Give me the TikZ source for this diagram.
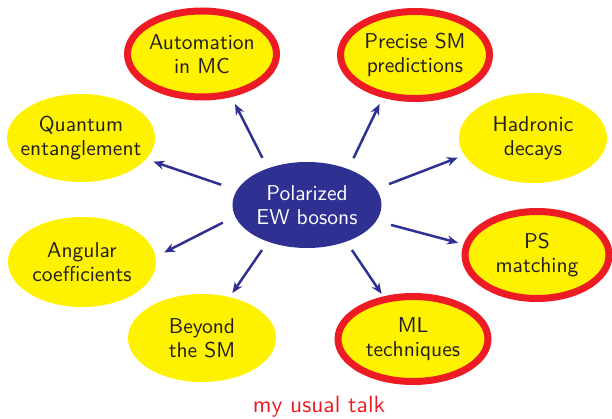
\documentclass[tikz,border=0pt]{standalone}
\usepackage{fontspec}
\setsansfont{lmsans10-regular}[Extension=.otf]
\usetikzlibrary{shapes.geometric,arrows.meta}
\definecolor{bubyellow}{HTML}{FFF200}
\definecolor{hotred}{HTML}{ED1C24}
\definecolor{coreblue}{HTML}{2E3192}
\definecolor{inkdark}{HTML}{231F20}
\begin{document}
\begin{tikzpicture}[x=1pt,y=-1pt,
  bub/.style={ellipse, fill=bubyellow, inner xsep=-14pt, inner ysep=0pt, outer sep=0pt,
    text=inkdark, align=center, font=\sffamily\fontsize{21.5}{24}\selectfont,
    minimum width=148pt, minimum height=88pt},
  hot/.style={bub, draw=hotred, line width=7pt},
  core/.style={bub, fill=coreblue, text=white},
  arr/.style={draw=coreblue, line width=2.5pt, -{Stealth[length=11pt,width=9pt]}}]
\useasboundingbox (0,0) rectangle (612,419);

\node[core, minimum width=149pt, minimum height=86pt] (c) at (307,205) {Polarized\\EW bosons};

\node[hot, minimum width=149pt, minimum height=86pt] (auto) at (202,54) {Automation\\in MC};
\node[hot, minimum width=149pt, minimum height=87pt] (prec) at (415,55) {Precise SM\\predictions};
\node[bub, minimum width=148pt, minimum height=88pt] (quant) at (81,138) {Quantum\\entanglement};
\node[bub, minimum width=148pt, minimum height=90pt] (hadr) at (533,138) {Hadronic\\decays};
\node[bub, minimum width=148pt, minimum height=90pt] (ang) at (82,262) {Angular\\coefficients};
\node[hot, minimum width=144pt, minimum height=87pt] (ps) at (537,255) {PS\\matching};
\node[bub, minimum width=148pt, minimum height=88pt] (beyond) at (202,338) {Beyond\\the SM};
\node[hot, minimum width=150pt, minimum height=85pt] (ml) at (413,339) {ML\\techniques};

\draw[arr, shorten <=11.9pt, shorten >=11.3pt] (c.137.5) -- (auto.305);
\draw[arr, shorten <=12.2pt, shorten >=10.4pt] (c.41.7) -- (prec.232.6);
\draw[arr, shorten <=16.8pt, shorten >=7.9pt] (c.168.5) -- (quant.342.8);
\draw[arr, shorten <=13.8pt, shorten >=7.3pt] (c.13.1) -- (hadr.194.3);
\draw[arr, shorten <=13.8pt, shorten >=9.6pt] (c.189.4) -- (ang.4.5);
\draw[arr, shorten <=15.4pt, shorten >=9.1pt] (c.347) -- (ps.172.2);
\draw[arr, shorten <=10.3pt, shorten >=5pt] (c.223.1) -- (beyond.56.4);
\draw[arr, shorten <=10.2pt, shorten >=6.7pt] (c.317.2) -- (ml.125.7);

\node[text=hotred, font=\sffamily\fontsize{23.5}{26}\selectfont] (talk) at (319,407) {my usual talk};
\end{tikzpicture}
\end{document}
